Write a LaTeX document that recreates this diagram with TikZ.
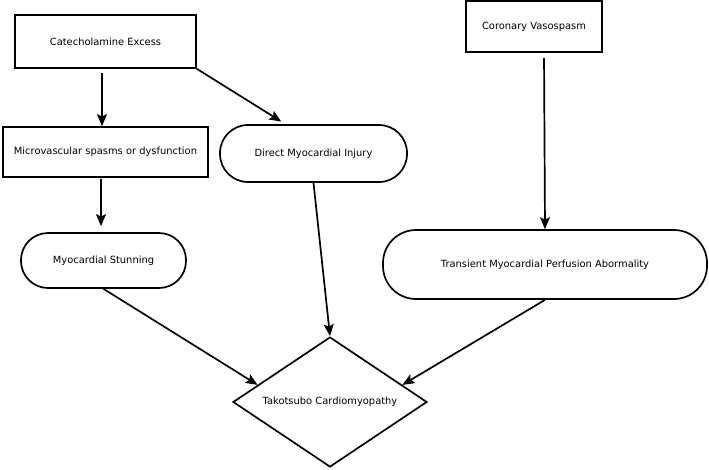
\documentclass[tikz,border=0pt]{standalone}
\usepackage{fontspec}
\setmainfont{DejaVu Sans}
\usetikzlibrary{shapes.geometric,arrows.meta,calc}
\begin{document}
\begin{tikzpicture}[x=1pt,y=-1pt,
  base/.style={draw,line width=1.7pt,inner sep=0pt,align=center,font=\fontsize{9.9}{11}\selectfont},
  rectbox/.style={base,rectangle},
  pill/.style={base,rectangle},
  decision/.style={base,diamond,shape aspect=1.5},
  arr/.style={line width=1.7pt,-{Stealth[length=12pt,width=10pt,inset=2.5pt]}}
]
\useasboundingbox (0,0) rectangle (709,469);
\node[rectbox,minimum width=181pt,minimum height=53pt] (cat) at (105.5,41.5) {Catecholamine Excess};
\node[rectbox,minimum width=136pt,minimum height=51pt] (cor) at (534,26.5) {Coronary Vasospasm};
\node[rectbox,minimum width=205pt,minimum height=50pt] (micro) at (105.5,152) {Microvascular spasms or dysfunction};
\node[pill,rounded corners=28pt,minimum width=187pt,minimum height=57pt] (direct) at (313.5,153.5) {Direct Myocardial Injury};
\node[pill,rounded corners=27pt,minimum width=165pt,minimum height=55pt] (stun) at (103.5,260.5) {Myocardial Stunning};
\node[pill,rounded corners=33pt,minimum width=324pt,minimum height=69pt] (trans) at (545,264.5) {Transient Myocardial Perfusion Abormality};
\node[decision,minimum width=194pt,minimum height=130pt] (tako) at (330,402) {Takotsubo Cardiomyopathy};

\coordinate (tl) at ($(tako.west)!0.26!(tako.north)$);
\coordinate (tr) at ($(tako.east)!0.26!(tako.north)$);

\draw[arr,shorten <=4pt] ([xshift=-3.5pt]cat.south) -- ([xshift=-3.5pt]micro.north);
\draw[arr,shorten >=5pt] (cat.south east) -- ([xshift=-28pt]direct.north);
\draw[arr,shorten <=1pt,shorten >=6pt] ([xshift=-4.5pt]micro.south) -- ([xshift=-2.5pt]stun.north);
\draw[arr] (direct.south) -- (tako.north);
\draw[arr] (stun.south) -- (tl);
\draw[arr] (trans.south) -- (tr);
\draw[arr,shorten <=5pt] ([xshift=10pt]cor.south) -- (trans.north);
\end{tikzpicture}
\end{document}
